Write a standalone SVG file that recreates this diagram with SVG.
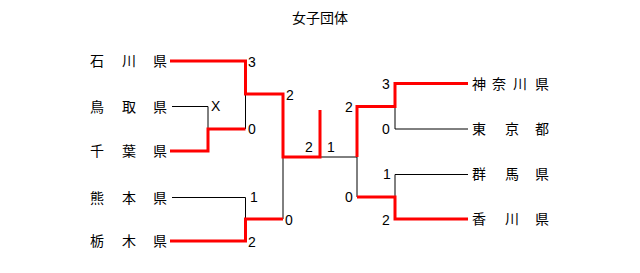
<svg xmlns="http://www.w3.org/2000/svg" width="640" height="273" viewBox="0 0 640 273">
<style>
.t{font-family:"Liberation Sans","Noto Sans CJK JP",sans-serif;font-size:14px;fill:#000}
.j{font-family:"Noto Sans CJK JP",sans-serif;font-size:14px;fill:#000;text-anchor:middle}
.n{font-family:"Liberation Sans",sans-serif;font-size:14px;fill:#000}
.k{fill:none;stroke:#000;stroke-width:1}
.r{fill:none;stroke:#f00;stroke-width:3;stroke-linejoin:miter;stroke-linecap:butt}
</style>
<rect width="640" height="273" fill="#fff"/>
<text class="j" x="320" y="23">女子団体</text>
<g id="connectors">
<path class="k" d="M172 106.5H208V129"/>
<path class="k" d="M245.5 94V129"/>
<path class="k" d="M172 197.5H245.5V219"/>
<path class="k" d="M283 157V219"/>
<path class="k" d="M320 157H357"/>
<path class="k" d="M357 157V197"/>
<path class="k" d="M395 106V129H468"/>
<path class="k" d="M468 174.5H395V197"/>
<path class="r" d="M170 61H245.5V94H283V157H320V110"/>
<path class="r" d="M170 151H208V129H245.5"/>
<path class="r" d="M170 241H245.5V219H283"/>
<path class="r" d="M468 83.5H395V106.5H357V157"/>
<path class="r" d="M357 197H395V219H468"/>
</g>
<g id="ishikawa"><text class="j" x="97" y="66">石</text><text class="j" x="129" y="66">川</text><text class="j" x="160" y="66">県</text></g>
<g id="tottori"><text class="j" x="97" y="112">鳥</text><text class="j" x="129" y="112">取</text><text class="j" x="160" y="112">県</text></g>
<g id="chiba"><text class="j" x="97" y="156">千</text><text class="j" x="129" y="156">葉</text><text class="j" x="160" y="156">県</text></g>
<g id="kumamoto"><text class="j" x="97" y="203">熊</text><text class="j" x="129" y="203">本</text><text class="j" x="160" y="203">県</text></g>
<g id="tochigi"><text class="j" x="97" y="246">栃</text><text class="j" x="129" y="246">木</text><text class="j" x="160" y="246">県</text></g>
<g id="kanagawa"><text class="j" x="479" y="89">神</text><text class="j" x="499" y="89">奈</text><text class="j" x="520" y="89">川</text><text class="j" x="542" y="89">県</text></g>
<g id="tokyo"><text class="j" x="479" y="134">東</text><text class="j" x="512" y="134">京</text><text class="j" x="542" y="134">都</text></g>
<g id="gunma"><text class="j" x="479" y="179">群</text><text class="j" x="512" y="179">馬</text><text class="j" x="542" y="179">県</text></g>
<g id="kagawa"><text class="j" x="479" y="224">香</text><text class="j" x="512" y="224">川</text><text class="j" x="542" y="224">県</text></g>
<g id="scores">
<text class="n" x="248" y="67">3</text>
<text class="n" x="211" y="111">X</text>
<text class="n" x="248" y="134">0</text>
<text class="n" x="286" y="100">2</text>
<text class="n" x="305" y="152">2</text>
<text class="n" x="250" y="202">1</text>
<text class="n" x="285" y="225">0</text>
<text class="n" x="248" y="247">2</text>
<text class="n" x="382" y="89">3</text>
<text class="n" x="382" y="134">0</text>
<text class="n" x="345" y="112">2</text>
<text class="n" x="327" y="152">1</text>
<text class="n" x="383" y="179">1</text>
<text class="n" x="345" y="202">0</text>
<text class="n" x="382" y="225">2</text>
</g>
</svg>
